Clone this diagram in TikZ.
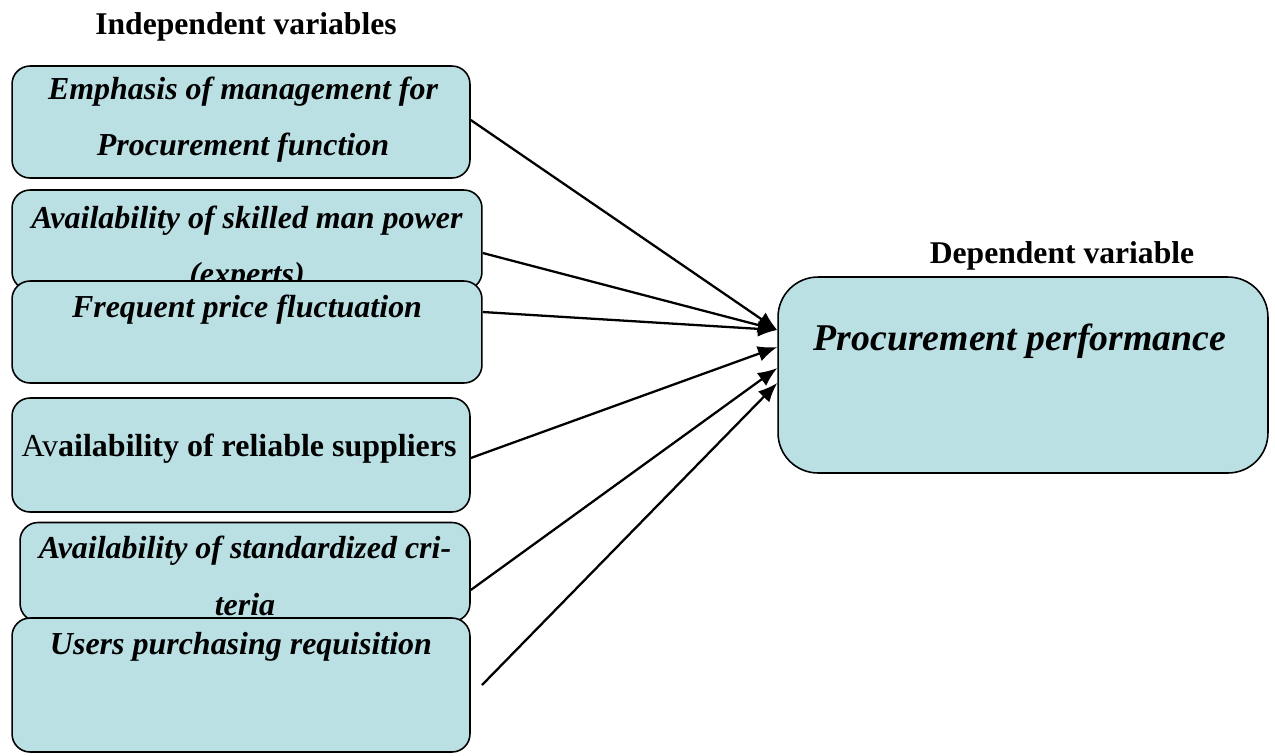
\documentclass[tikz,border=0pt]{standalone}
\usepackage{fontspec}
\setmainfont{Liberation Serif}
\usetikzlibrary{arrows.meta, positioning}
\definecolor{boxblue}{RGB}{186, 224, 228}

\begin{document}
\begin{tikzpicture}[x=0.02cm, y=-0.02cm,
        var/.style={rectangle, draw, line width=0.9pt, rounded corners=0.36cm, fill=boxblue, inner sep=0pt},
        vartext/.style={align=center, font=\fontsize{18.2}{32}\selectfont\bfseries\itshape},
        head/.style={font=\fontsize{18}{21}\selectfont\bfseries},
        link/.style={-{Latex[length=11pt, width=9pt]}, line width=1.3pt}
    ]
        \useasboundingbox (0, 0) rectangle (1275, 755);

        % headings
        \node[head] (indep) at (246, 27) {Independent variables};
        \node[head] (dep) at (1062, 256) {Dependent variable};

        % independent variables
        \node[var, minimum width=9.16cm, minimum height=2.24cm] (emph) at (241, 122) {};
        \node[vartext] (emphtxt) at (243, 120) {Emphasis of management for\\Procurement function};

        \node[var, minimum width=9.4cm, minimum height=2cm] (skill) at (247, 240) {};
        \node[vartext] (skilltxt) at (247, 249) {Availability of skilled man power\\(experts)};

        \node[var, minimum width=9.4cm, minimum height=2.04cm] (price) at (247, 332) {};
        \node[vartext] (pricetxt) at (247, 310) {Frequent price fluctuation};

        \node[var, minimum width=9.16cm, minimum height=2.28cm] (supp) at (241, 455) {};
        \node[align=center, font=\fontsize{18.2}{32}\selectfont] (supptxt) at (239, 449) {Av\textbf{ailability of reliable suppliers}};

        \node[var, minimum width=9cm, minimum height=1.98cm] (crit) at (245, 572) {};
        \node[vartext] (crittxt) at (245, 576) {Availability of standardized cri-\\teria};

        \node[var, minimum width=9.16cm, minimum height=2.68cm] (users) at (241, 685) {};
        \node[vartext] (userstxt) at (241, 647) {Users purchasing requisition};

        % dependent variable
        \node[var, rounded corners=0.8cm, minimum width=9.8cm, minimum height=3.92cm] (perf) at (1023, 375) {};
        \node[vartext, font=\fontsize{21.5}{26}\selectfont\bfseries\itshape] (perftxt) at (1020, 341) {Procurement performance};

        \coordinate (usersend) at (482, 685);

        \draw[link] ([yshift=0.04cm]emph.east) -- ([yshift=0.9cm]perf.west);
        \draw[link] ([yshift=-0.26cm]skill.east) -- ([yshift=0.9cm]perf.west);
        \draw[link] ([yshift=0.4cm]price.east) -- ([yshift=0.9cm]perf.west);
        \draw[link] ([yshift=-0.06cm]supp.east) -- ([yshift=0.56cm]perf.west);
        \draw[link] ([yshift=-0.36cm]crit.east) -- ([yshift=0.14cm]perf.west);
        \draw[link] (usersend) -- ([yshift=-0.16cm]perf.west);
    \end{tikzpicture}
\end{document}
